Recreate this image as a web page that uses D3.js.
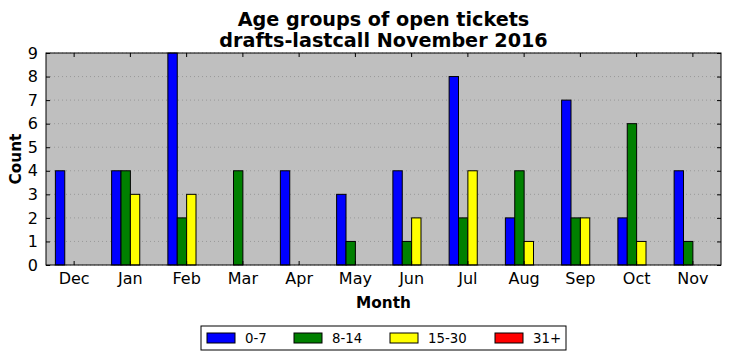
<!DOCTYPE html>
<html>
<head>
<meta charset="utf-8">
<script src="https://cdn.jsdelivr.net/npm/d3@7"></script>
<style>
  body { margin: 0; background: #fff; }
  text { font-family: "DejaVu Sans", sans-serif; }
</style>
</head>
<body>
<svg></svg>
<script>
const months = ['Dec', 'Jan', 'Feb', 'Mar', 'Apr', 'May', 'Jun', 'Jul', 'Aug', 'Sep', 'Oct', 'Nov'];
const groups = ['0-7', '8-14', '15-30', '31+'];
const colors = ['#0000ff', '#008000', '#ffff00', '#ff0000'];
const age0_7   = [4, 4, 9, 0, 4, 3, 4, 8, 2, 7, 2, 4];
const age8_14  = [0, 4, 2, 4, 0, 1, 1, 2, 4, 2, 6, 1];
const age15_30 = [0, 3, 3, 0, 0, 0, 2, 4, 1, 2, 1, 0];
const age31    = [0, 0, 0, 0, 0, 0, 0, 0, 0, 0, 0, 0];
const series = [age0_7, age8_14, age15_30, age31];
const yTicks = d3.range(0, 10);

const size = {w: 731, h: 361};
const margin = {t: 53, r: 10, b: 96, l: 46};
const svg = d3.select('svg').attr('width', size.w).attr('height', size.h);

const x = d3.scaleBand().domain(months).range([margin.l, size.w - margin.r]);
const y = d3.scaleLinear().domain([0, 9]).range([size.h - margin.b, margin.t]);
// bars take 2/3 of each category, split between the groups
const inner = d3.scaleBand().domain(groups)
    .range([x.bandwidth() / 6, x.bandwidth() * 5 / 6]);

const plot = svg.append('g');
plot.append('rect')
    .attr('x', margin.l).attr('y', margin.t)
    .attr('width', x.range()[1] - margin.l)
    .attr('height', y(0) - margin.t)
    .attr('fill', '#bfbfbf');

// dotted horizontal grid
plot.append('g').selectAll('line').data(yTicks).join('line')
    .attr('x1', margin.l).attr('x2', x.range()[1])
    .attr('y1', d => y(d)).attr('y2', d => y(d))
    .attr('stroke', '#808080').attr('stroke-width', 0.6)
    .attr('stroke-dasharray', '1,3');

series.forEach((vals, i) => {
    plot.append('g').selectAll('rect').data(vals).join('rect')
        .attr('x', (d, j) => x(months[j]) + inner(groups[i]))
        .attr('y', d => y(d))
        .attr('width', inner.bandwidth())
        .attr('height', d => y(0) - y(d))
        .attr('fill', colors[i])
        .attr('stroke', '#000').attr('stroke-width', 1);
});

// frame
plot.append('rect')
    .attr('x', margin.l).attr('y', margin.t)
    .attr('width', x.range()[1] - margin.l)
    .attr('height', y(0) - margin.t)
    .attr('fill', 'none').attr('stroke', '#000').attr('stroke-width', 1);

// axes, ticks inward like classic matplotlib
const xAxis = d3.axisBottom(x).tickSize(-4).tickPadding(8);
const gx = svg.append('g').attr('transform', `translate(0,${y(0)})`).call(xAxis);
gx.select('.domain').remove();
gx.selectAll('text').attr('font-size', 16).attr('font-family', 'DejaVu Sans').attr('fill', '#000');

const gxTop = svg.append('g').attr('transform', `translate(0,${margin.t})`)
    .call(d3.axisTop(x).tickSize(-4).tickFormat(''));
gxTop.select('.domain').remove();

const yAxis = d3.axisLeft(y).tickValues(yTicks).tickSize(-4).tickPadding(8);
const gy = svg.append('g').attr('transform', `translate(${margin.l},0)`).call(yAxis);
gy.select('.domain').remove();
gy.selectAll('text').attr('font-size', 16).attr('font-family', 'DejaVu Sans').attr('fill', '#000');

const gyR = svg.append('g').attr('transform', `translate(${x.range()[1]},0)`)
    .call(d3.axisRight(y).tickValues(yTicks).tickSize(-4).tickFormat(''));
gyR.select('.domain').remove();

// titles
const cx = (margin.l + x.range()[1]) / 2;
svg.append('text').attr('x', cx).attr('y', 26).attr('text-anchor', 'middle')
    .attr('font-size', 19.2).attr('font-weight', 'bold').text('Age groups of open tickets');
svg.append('text').attr('x', cx).attr('y', 47).attr('text-anchor', 'middle')
    .attr('font-size', 19.2).attr('font-weight', 'bold').text('drafts-lastcall November 2016');
svg.append('text').attr('x', cx).attr('y', 308).attr('text-anchor', 'middle')
    .attr('font-size', 15.3).attr('font-weight', 'bold').text('Month');
svg.append('text').attr('transform', `translate(21,${(margin.t + y(0)) / 2}) rotate(-90)`)
    .attr('text-anchor', 'middle').attr('font-size', 15.3).attr('font-weight', 'bold').text('Count');

// legend
const legendX = [207, 294, 390, 495];
const legend = svg.append('g');
legend.append('rect').attr('x', 201).attr('y', 326).attr('width', 365).attr('height', 24)
    .attr('fill', '#fff').attr('stroke', '#000').attr('stroke-width', 1);
groups.forEach((g, i) => {
    legend.append('rect').attr('x', legendX[i]).attr('y', 333).attr('width', 28).attr('height', 10)
        .attr('fill', colors[i]).attr('stroke', '#000').attr('stroke-width', 1);
    legend.append('text').attr('x', legendX[i] + 38).attr('y', 343)
        .attr('font-size', 13.3).text(g);
});
</script>
</body>
</html>
